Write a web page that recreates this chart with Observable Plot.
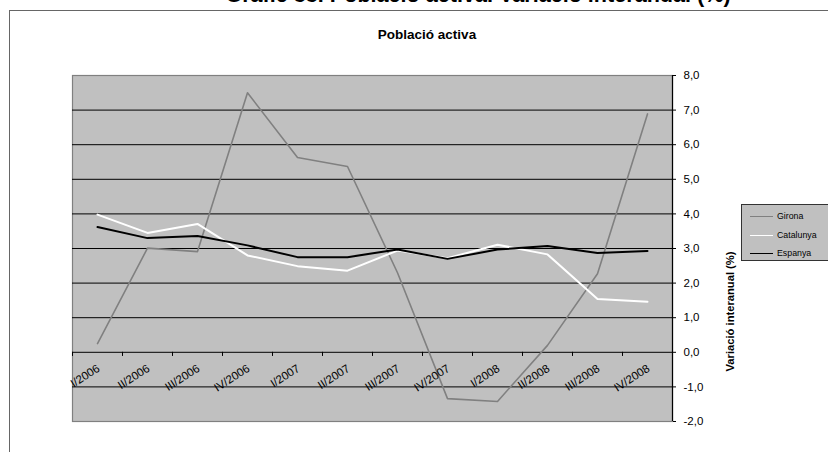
<!DOCTYPE html>
<html>
<head>
<meta charset="utf-8">
<script src="https://cdn.jsdelivr.net/npm/d3@7"></script>
<script src="https://cdn.jsdelivr.net/npm/@observablehq/plot@0.6"></script>
<style>
  html, body { margin: 0; padding: 0; background: #fff; }
  #wrap { position: relative; width: 828px; height: 452px; overflow: hidden; font-family: "Liberation Sans", Arial, sans-serif; }
  #frame { position: absolute; left: 9px; top: 10px; width: 900px; height: 500px; border: 1px solid #666; box-sizing: border-box; }
  #title { position: absolute; left: 0; width: 956px; text-align: center; top: -18px; font-size: 21.6px; font-weight: bold; white-space: nowrap; color: #000; }
  #subtitle { position: absolute; left: 0; width: 854px; text-align: center; top: 27px; font-size: 13.5px; font-weight: bold; color: #000; }
  #chart { position: absolute; left: 0; top: 0; }
  #legend { position: absolute; left: 741px; top: 204px; width: 90px; height: 57px; background: #c0c0c0; border: 1px solid #333; box-sizing: border-box; }
  .item { position: absolute; left: 8px; height: 12px; font-size: 8.8px; color: #000; }
  .item .sw { position: absolute; left: 0; top: 6px; width: 23px; height: 0; border-top: 1.5px solid; }
  .item .lb { position: absolute; left: 27px; top: 0; line-height: 12px; white-space: nowrap; }
</style>
</head>
<body>
<div id="wrap">
  <div id="frame"></div>
  <div id="title"></div>
  <div id="subtitle"></div>
  <div id="chart"></div>
  <div id="legend"></div>
</div>
<script>
const mainTitle = "Gràfic 33. Població activa. Variació interanual (%)";
const chartTitle = "Població activa";
const yTitle = "Variació interanual (%)";
const categories = ["I/2006","II/2006","III/2006","IV/2006","I/2007","II/2007","III/2007","IV/2007","I/2008","II/2008","III/2008","IV/2008"];
const girona    = [0.25, 3.01, 2.91, 7.50, 5.63, 5.37, 2.30, -1.34, -1.42, 0.20, 2.27, 6.89];
const catalunya = [3.98, 3.45, 3.71, 2.80, 2.49, 2.36, 2.94, 2.72, 3.11, 2.83, 1.54, 1.46];
const espanya   = [3.62, 3.30, 3.36, 3.09, 2.75, 2.75, 2.97, 2.70, 2.97, 3.07, 2.87, 2.93];
const yTicks = [-2, -1, 0, 1, 2, 3, 4, 5, 6, 7, 8];
const seriesNames = ["Girona", "Catalunya", "Espanya"];
const seriesColors = ["#808080", "#ffffff", "#000000"];

document.getElementById("title").textContent = mainTitle;
document.getElementById("subtitle").textContent = chartTitle;

const rows = categories.map((q, i) => ({q, i, Girona: girona[i], Catalunya: catalunya[i], Espanya: espanya[i]}));
const boundaries = d3.range(categories.length + 1);
const gridVals = yTicks.filter(v => v > yTicks[0] && v < yTicks[yTicks.length - 1]);
const fmt = d => d.toFixed(1).replace(".", ",");

const chart = Plot.plot({
  width: 828,
  height: 452,
  marginTop: 75,
  marginBottom: 31,
  marginLeft: 72,
  marginRight: 156,
  style: {background: "transparent", fontFamily: "Liberation Sans, Arial, sans-serif", color: "#000"},
  x: {type: "linear", domain: [0, categories.length], axis: null},
  y: {domain: [yTicks[0], yTicks[yTicks.length - 1]], axis: null},
  marks: [
    Plot.frame({fill: "#c0c0c0", stroke: "#808080", strokeWidth: 1.2}),
    Plot.ruleY(gridVals, {stroke: "#000", strokeWidth: 1}),
    Plot.ruleX(boundaries, {x: d => d, y1: 0, y2: -0.12, stroke: "#000"}),
    Plot.ruleX([categories.length], {stroke: "#000", strokeWidth: 1.2}),
    ...seriesNames.map((s, k) => Plot.line(rows, {x: d => d.i + 0.5, y: s, stroke: seriesColors[k], strokeWidth: k === 0 ? 1.6 : 2})),
    Plot.text(rows, {x: d => d.i + 0.5, y: 0, text: "q", rotate: -33, textAnchor: "end", dx: 1, dy: 15, fontSize: 11.5, fill: "#000"}),
    Plot.axisY({anchor: "right", ticks: yTicks, tickFormat: fmt, tickSize: 3, tickPadding: 8, fontSize: 11.5, label: null}),
    Plot.text([yTitle], {frameAnchor: "right", dx: 58, dy: 3, rotate: -90, fontWeight: "bold", fontSize: 11.2, fill: "#000"})
  ]
});
document.getElementById("chart").appendChild(chart);

const legend = document.getElementById("legend");
seriesNames.forEach((s, k) => {
  const it = document.createElement("div");
  it.className = "item";
  it.style.top = (5 + k * 18.5) + "px";
  const sw = document.createElement("div");
  sw.className = "sw";
  sw.style.borderTopColor = seriesColors[k];
  const lb = document.createElement("div");
  lb.className = "lb";
  lb.textContent = s;
  it.appendChild(sw); it.appendChild(lb);
  legend.appendChild(it);
});
</script>
</body>
</html>
